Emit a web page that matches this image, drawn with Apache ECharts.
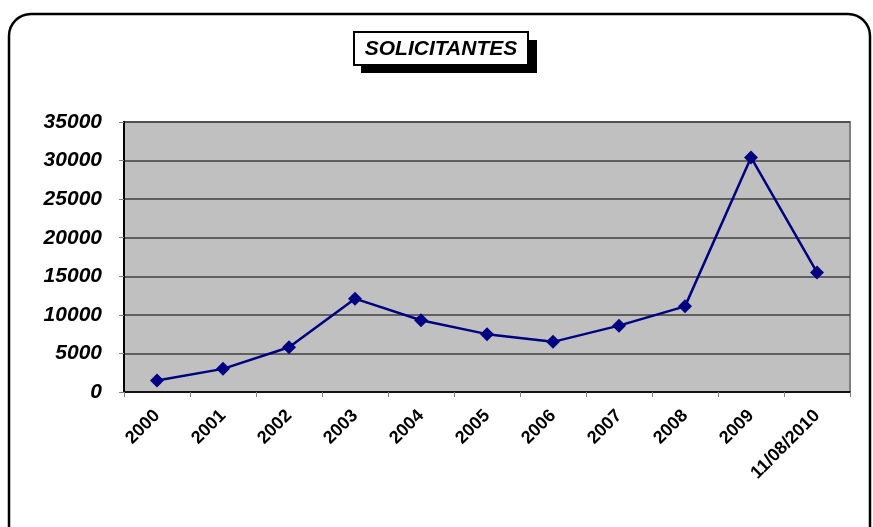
<!DOCTYPE html>
<html><head><meta charset="utf-8">
<script src="https://cdn.jsdelivr.net/npm/echarts@6/dist/echarts.min.js"></script>
<style>html,body{margin:0;padding:0;background:#fff}#c{width:873px;height:527px}</style>
</head><body><div id="c"></div>
<script>
const categories = ['2000','2001','2002','2003','2004','2005','2006','2007','2008','2009','11/08/2010'];
const solicitantes = [1500, 3000, 5800, 12100, 9300, 7500, 6500, 8600, 11100, 30400, 15500];
const yTicks = [0, 5000, 10000, 15000, 20000, 25000, 30000, 35000];
const titleText = 'SOLICITANTES';

const chart = echarts.init(document.getElementById('c'), null, {renderer:'canvas'});
chart.setOption({
  animation:false,
  backgroundColor:'#fff',
  graphic:[
    {type:'rect', z:-10, shape:{x:9,y:14,width:861,height:540,r:22}, style:{fill:'#fff',stroke:'#000',lineWidth:2.5}},
    {type:'rect', z:10, shape:{x:361,y:40,width:176,height:33}, style:{fill:'#000'}},
    {type:'rect', z:11, shape:{x:354,y:32,width:174,height:33}, style:{fill:'#fff',stroke:'#000',lineWidth:2}},
    {type:'text', z:12, x:441, y:49, style:{text:titleText, fill:'#000', font:'italic bold 21px "Liberation Sans", Arial, sans-serif', align:'center', verticalAlign:'middle'}}
  ],
  grid:{left:124, right:23, top:122, bottom:135, show:true, backgroundColor:'#c0c0c0', borderColor:'#808080', borderWidth:2},
  xAxis:{
    type:'category', data:categories, boundaryGap:true,
    axisLine:{show:true, lineStyle:{color:'#000', width:1.5}},
    axisTick:{show:true, alignWithLabel:false, length:5, lineStyle:{color:'#808080'}},
    axisLabel:{rotate:45, interval:0, margin:21, color:'#000', fontWeight:'bold', fontSize:18, fontFamily:'"Liberation Sans", Arial, sans-serif'}
  },
  yAxis:{
    type:'value', min:0, max:35000, interval:5000,
    axisLine:{show:true, lineStyle:{color:'#000', width:2}},
    axisTick:{show:true, length:5, lineStyle:{color:'#808080'}},
    splitLine:{show:true, lineStyle:{color:'#404040', width:1.5}},
    axisLabel:{color:'#000', fontWeight:'bold', fontStyle:'italic', fontSize:21, margin:22, padding:[4,0,0,0], fontFamily:'"Liberation Sans", Arial, sans-serif',
      formatter:v=>yTicks.includes(v)?String(v):''}
  },
  series:[{
    type:'line', data:solicitantes, symbol:'diamond', symbolSize:14,
    lineStyle:{color:'#000080', width:2.5}, itemStyle:{color:'#000080'}
  }]
});
</script></body></html>
